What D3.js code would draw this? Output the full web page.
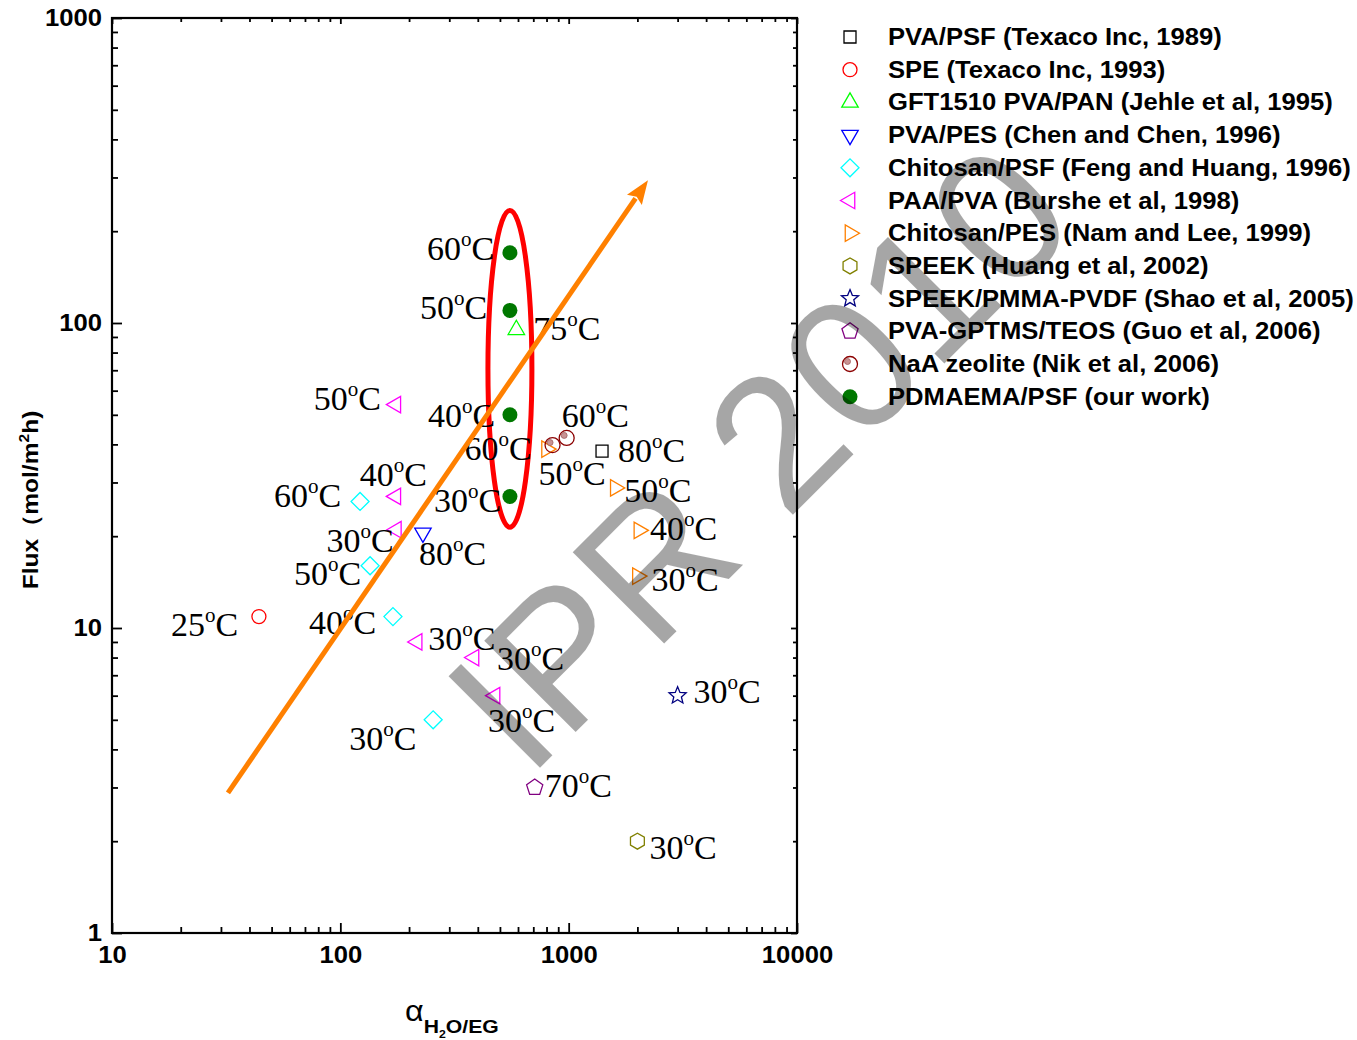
<!DOCTYPE html>
<html>
<head>
<meta charset="utf-8">
<script src="https://cdn.jsdelivr.net/npm/d3@7"></script>
<style>
  body { margin: 0; background: #fff; }
  svg { display: block; }
</style>
</head>
<body>
<svg id="chart"></svg>
<script>
// ---- data ----
const seriesNames = [
  "PVA/PSF (Texaco Inc, 1989)",
  "SPE (Texaco Inc, 1993)",
  "GFT1510 PVA/PAN (Jehle et al, 1995)",
  "PVA/PES (Chen and Chen, 1996)",
  "Chitosan/PSF (Feng and Huang, 1996)",
  "PAA/PVA (Burshe et al, 1998)",
  "Chitosan/PES (Nam and Lee, 1999)",
  "SPEEK (Huang et al, 2002)",
  "SPEEK/PMMA-PVDF (Shao et al, 2005)",
  "PVA-GPTMS/TEOS (Guo et al, 2006)",
  "NaA zeolite (Nik et al, 2006)",
  "PDMAEMA/PSF (our work)"
];
// separation factor alpha H2O/EG
const seriesAlpha = [
  [1400],
  [44],
  [590],
  [230],
  [122, 135, 170, 255],
  [175, 175, 176, 217, 385, 476],
  [800, 1600, 2030, 2000],
  [2000],
  [3000],
  [710],
  [850, 980],
  [553, 553, 553, 553]
];
// flux mol/m2h
const seriesFlux = [
  [38],
  [10.9],
  [95],
  [20.5],
  [26, 16, 10.9, 5.0],
  [54, 27, 21, 9.0, 8.0, 6.0],
  [38.6, 28.8, 20.9, 14.8],
  [2.0],
  [6.0],
  [3.0],
  [39.8, 42],
  [170, 110, 50, 27]
];
// temperature (deg C) shown next to each point
const seriesTemps = [
  ["80"],
  ["25"],
  ["75"],
  ["80"],
  ["60", "50", "40", "30"],
  ["50", "40", "30", "30", "30", "30"],
  ["60", "50", "40", "30"],
  ["30"],
  ["30"],
  ["70"],
  ["50", "60"],
  ["60", "50", "40", "30"]
];
const xTicks = [10, 100, 1000, 10000];
const yTicks = [1, 10, 100, 1000];
// trend arrow and highlight ellipse (data coords)
const arrowAlpha = [32.2, 2225];
const arrowFlux = [2.88, 294];
const ovalAlpha = [439, 553, 684];
const ovalFlux = [21.4, 234];

// ---- styles ----
const seriesShape = ["square", "circle", "triUp", "triDown", "diamond", "triLeft",
  "triRight", "hexagon", "star", "pentagon", "target", "dot"];
const seriesColor = ["#000000", "#ff0000", "#00ff00", "#0000ff", "#00ffff", "#ff00ff",
  "#ff8000", "#808000", "#000080", "#800080", "#8b0000", "#007800"];
// label offsets (pixels from marker: left edge of text, baseline)
const labelOffsets = [
  [[16, 11]],
  [[-88, 19]],
  [[17, 10]],
  [[-4, 32]],
  [[-86, 6], [-76, 19], [-84, 17], [-84, 30]],
  [[-82, 5], [-36, -10], [-70, 22], [11, 8], [23, 12], [-7, 36]],
  [[-82, 11], [9, 14], [11, 10], [14, 15]],
  [[12, 18]],
  [[16, 7]],
  [[10, 10]],
  [[-14, 40], [-5, -11]],
  [[-83, 7], [-90, 9], [-82, 12], [-76, 16]]
];

const W = 1357, H = 1040;
const stretch = 1.115;   // sans text in the figure is a little wide
const svg = d3.select("#chart").attr("width", W).attr("height", H);

const x = d3.scaleLog().domain([10, 10000]).range([112, 797]);
const y = d3.scaleLog().domain([1, 1000]).range([933, 18]);

function minorTicks(lo, hi) {
  const out = [];
  for (let d = lo; d < hi; d *= 10)
    for (let k = 2; k <= 9; k++) out.push(d * k);
  return out;
}
const xMinor = minorTicks(10, 10000);
const yMinor = minorTicks(1, 1000);

// axes, ticks pointing in
function axisGroup(axis, tf) {
  const g = svg.append("g").attr("transform", tf).call(axis);
  g.select(".domain").remove();
  g.selectAll(".tick line").attr("stroke", "#000").attr("stroke-width", 1.8);
  return g;
}
const tickFont = "'Liberation Sans', Arial, sans-serif";

const gx = axisGroup(d3.axisBottom(x).tickValues(xTicks).tickSize(-10).tickPadding(14)
  .tickFormat(d3.format("d")), "translate(0,933)");
gx.selectAll("text").attr("font-family", tickFont).attr("font-weight", "bold")
  .attr("font-size", 23).attr("fill", "#000").attr("transform", `scale(${stretch},1)`);
axisGroup(d3.axisBottom(x).tickValues(xMinor).tickSize(-6).tickFormat(""), "translate(0,933)");
axisGroup(d3.axisTop(x).tickValues(xTicks).tickSize(-6).tickFormat(""), "translate(0,18)");
axisGroup(d3.axisTop(x).tickValues(xMinor).tickSize(-4).tickFormat(""), "translate(0,18)");

const gy = axisGroup(d3.axisLeft(y).tickValues(yTicks).tickSize(-10).tickPadding(9)
  .tickFormat(d3.format("d")), "translate(112,0)");
gy.selectAll("text").attr("font-family", tickFont).attr("font-weight", "bold")
  .attr("font-size", 23).attr("fill", "#000").attr("transform", `scale(${stretch},1)`);
axisGroup(d3.axisLeft(y).tickValues(yMinor).tickSize(-6).tickFormat(""), "translate(112,0)");
axisGroup(d3.axisRight(y).tickValues(yTicks).tickSize(-6).tickFormat(""), "translate(797,0)");
axisGroup(d3.axisRight(y).tickValues(yMinor).tickSize(-4).tickFormat(""), "translate(797,0)");

// frame
svg.append("rect").attr("x", 112).attr("y", 18).attr("width", 685).attr("height", 915)
  .attr("fill", "none").attr("stroke", "#000").attr("stroke-width", 2.2);

// axis titles
const yt = svg.append("text").attr("transform", `translate(38,500) rotate(-90) scale(${stretch},1)`)
  .attr("text-anchor", "middle").attr("font-family", tickFont).attr("font-weight", "bold")
  .attr("font-size", 22).attr("fill", "#000");
yt.append("tspan").text("Flux（mol/m");
yt.append("tspan").attr("font-size", 14).attr("dy", -9).text("2");
yt.append("tspan").attr("dy", 9).text("h)");

const xt = svg.append("text").attr("transform", `translate(405,1021) scale(${stretch},1)`)
  .attr("font-family", tickFont).attr("fill", "#000");
xt.append("tspan").attr("font-size", 29).text("α");
xt.append("tspan").attr("font-size", 19).attr("font-weight", "bold").attr("dy", 12).text("H");
xt.append("tspan").attr("font-size", 11).attr("font-weight", "bold").attr("dy", 5).text("2");
xt.append("tspan").attr("font-size", 19).attr("font-weight", "bold").attr("dy", -5).text("O/EG");

// marker shapes
function poly(n, r, rot) {
  const pts = [];
  for (let i = 0; i < n; i++) {
    const a = rot + i * 2 * Math.PI / n;
    pts.push([r * Math.cos(a), r * Math.sin(a)]);
  }
  return "M" + pts.map(p => p[0].toFixed(2) + "," + p[1].toFixed(2)).join("L") + "Z";
}
function starPath(ro, ri) {
  const pts = [];
  for (let i = 0; i < 10; i++) {
    const r = i % 2 ? ri : ro;
    const a = -Math.PI / 2 + i * Math.PI / 5;
    pts.push([r * Math.cos(a), r * Math.sin(a)]);
  }
  return "M" + pts.map(p => p[0].toFixed(2) + "," + p[1].toFixed(2)).join("L") + "Z";
}
function drawMarker(g, shape, color) {
  const sw = 1.3;
  if (shape === "circle") {
    g.append("circle").attr("r", 7).attr("fill", "none").attr("stroke", color).attr("stroke-width", sw);
  } else if (shape === "dot") {
    g.append("circle").attr("r", 7.5).attr("fill", color);
  } else if (shape === "target") {
    g.append("circle").attr("r", 7.5).attr("fill", "none").attr("stroke", color).attr("stroke-width", sw);
    g.append("circle").attr("cx", -2.5).attr("cy", -2.5).attr("r", 3)
      .attr("fill", "#c89494").attr("stroke", "#a06060").attr("stroke-width", 0.8);
  } else {
    let d;
    if (shape === "square") d = "M-6,-6H6V6H-6Z";
    else if (shape === "triUp") d = poly(3, 9.5, -Math.PI / 2);
    else if (shape === "triDown") d = poly(3, 9.5, Math.PI / 2);
    else if (shape === "triLeft") d = poly(3, 9.5, Math.PI);
    else if (shape === "triRight") d = poly(3, 9.5, 0);
    else if (shape === "diamond") d = poly(4, 9, 0);
    else if (shape === "hexagon") d = poly(6, 8, Math.PI / 6);
    else if (shape === "pentagon") d = poly(5, 8.5, -Math.PI / 2);
    else if (shape === "star") d = starPath(9, 4);
    g.append("path").attr("d", d).attr("fill", "none").attr("stroke", color)
      .attr("stroke-width", sw).attr("stroke-linejoin", "miter");
  }
}

// temperature labels
const serif = "'Liberation Serif', 'Times New Roman', serif";
function tempLabel(px, py, t) {
  const tx = svg.append("text").attr("x", px).attr("y", py)
    .attr("font-family", serif).attr("font-size", 34).attr("fill", "#000");
  tx.append("tspan").text(t);
  tx.append("tspan").attr("font-size", 21).attr("dy", -14).text("o");
  tx.append("tspan").attr("dy", 14).text("C");
}

// red highlight ellipse
const ovX = x(ovalAlpha[1]);
const ovTop = y(ovalFlux[1]), ovBot = y(ovalFlux[0]);
svg.append("ellipse").attr("cx", ovX).attr("cy", (ovTop + ovBot) / 2)
  .attr("rx", (x(ovalAlpha[2]) - x(ovalAlpha[0])) / 2).attr("ry", (ovBot - ovTop) / 2)
  .attr("fill", "none").attr("stroke", "#ff0000").attr("stroke-width", 5);

// points and labels
seriesNames.forEach((name, i) => {
  seriesAlpha[i].forEach((a, j) => {
    const px = x(a), py = y(seriesFlux[i][j]);
    const g = svg.append("g").attr("transform", `translate(${px},${py})`);
    drawMarker(g, seriesShape[i], seriesColor[i]);
    const off = labelOffsets[i][j];
    tempLabel(px + off[0], py + off[1], seriesTemps[i][j]);
  });
});

// trend arrow
const ax0 = x(arrowAlpha[0]), ay0 = y(arrowFlux[0]);
const ax1 = x(arrowAlpha[1]), ay1 = y(arrowFlux[1]);
const ang = Math.atan2(ay1 - ay0, ax1 - ax0);
const headLen = 24, headW = 9;
const bx = ax1 - headLen * Math.cos(ang), by = ay1 - headLen * Math.sin(ang);
svg.append("line").attr("x1", ax0).attr("y1", ay0).attr("x2", bx + 2 * Math.cos(ang)).attr("y2", by + 2 * Math.sin(ang))
  .attr("stroke", "#ff8000").attr("stroke-width", 5);
svg.append("path")
  .attr("d", `M${ax1},${ay1}L${bx - headW * Math.sin(ang)},${by + headW * Math.cos(ang)}` +
    `L${bx + 4 * Math.cos(ang)},${by + 4 * Math.sin(ang)}` +
    `L${bx + headW * Math.sin(ang)},${by - headW * Math.cos(ang)}Z`)
  .attr("fill", "#ff8000");

// legend
const legend = svg.append("g");
seriesNames.forEach((name, i) => {
  const ly = 37 + i * 32.7;
  const g = legend.append("g").attr("transform", `translate(850,${ly})`);
  drawMarker(g, seriesShape[i], seriesColor[i]);
  legend.append("text").attr("transform", `translate(888,${ly + 8}) scale(${stretch},1)`)
    .attr("font-family", tickFont).attr("font-weight", "bold").attr("font-size", 23)
    .attr("fill", "#000").text(name);
});

// watermark
svg.append("text").attr("transform", "translate(757,455) rotate(-45)")
  .attr("text-anchor", "middle").attr("dy", "0.36em")
  .attr("font-family", tickFont).attr("font-size", 188)
  .attr("fill", "#000").attr("fill-opacity", 0.35).text("IPR 2010");
</script>
</body>
</html>
